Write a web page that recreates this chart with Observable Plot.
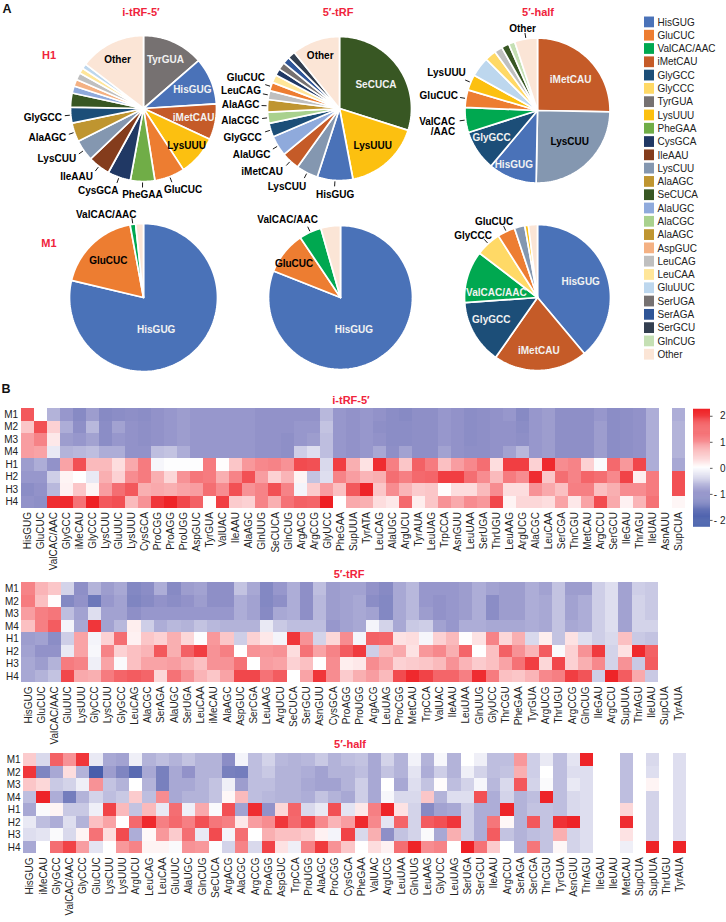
<!DOCTYPE html>
<html><head><meta charset="utf-8">
<script src="https://cdn.jsdelivr.net/npm/d3@7"></script>
<script src="https://cdn.jsdelivr.net/npm/@observablehq/plot@0.6"></script>
<style>
html,body{margin:0;padding:0;background:#fff}
#chart{position:relative;width:726px;height:922px;overflow:hidden;font-family:"Liberation Sans",Arial,sans-serif}
#chart svg{position:absolute;overflow:visible;background:transparent}
.t{position:absolute;white-space:nowrap;transform:translate(-50%,-50%);line-height:1}
.red{color:#f0243c;font-weight:bold;font-size:11px}
.pl{font-weight:bold;font-size:12.5px;color:#111}
</style></head><body><div id="chart"></div>
<script>
// ---------- legend ----------
const legendNames = ["HisGUG","GluCUC","ValCAC/AAC","iMetCAU","GlyGCC","GlyCCC","TyrGUA","LysUUU","PheGAA","CysGCA","IleAAU","LysCUU","AlaAGC","SeCUCA","AlaUGC","AlaCGC","AlaAGC","AspGUC","LeuCAG","LeuCAA","GluUUC","SerUGA","SerAGA","SerGCU","GlnCUG","Other"];
const legendColors = ["#4a72b8","#ed7d31","#00a850","#c55b28","#1c4e78","#ffd966","#767171","#fcc010","#70ad47","#203864","#843c1c","#8497b0","#bf9530","#385723","#8faadc","#a9d18e","#bf9530","#f4b183","#bfbfbf","#ffe699","#bdd7ee","#767171","#2f5597","#333f50","#c5e0b4","#fbe5d6"];
const colorOf = n => legendColors[legendNames.indexOf(n)];

// ---------- pies: tRNA names and percent shares, clockwise from 12 o'clock ----------
const pieH1iNames = ["TyrGUA","HisGUG","iMetCAU","LysUUU","GluCUC","PheGAA","CysGCA","IleAAU","LysCUU","AlaAGC","GlyGCC","SeCUCA","AlaUGC","AspGUC","LeuCAG","LeuCAA","GluUUC","Other"];
const pieH1iValues = [13.6,10.4,7.9,8.9,6.7,5.4,5.1,4.9,4.7,4.2,3.5,3.1,1.6,1.5,1.6,1.2,1.1,14.6];
const pieH1tNames = ["SeCUCA","LysUUU","HisGUG","LysCUU","iMetCAU","AlaUGC","GlyGCC","AlaCGC","AlaAGC","LeuCAG","GluCUC","LeuCAA","CysGCA","TyrGUA","SerAGA","SerGCU","Other"];
const pieH1tValues = [29.9,17.1,8,4.9,4.1,4.6,3.1,2.5,2.8,2,1.9,1.8,1.5,1.7,1.6,1.7,10.8];
const pieH1hNames = ["iMetCAU","LysCUU","HisGUG","GlyGCC","ValCAC/AAC","GluCUC","LysUUU","GluUUC","GlyCCC","LeuCAG","SeCUCA","GlnCUG","Other"];
const pieH1hValues = [25.3,25,10.8,9,5.6,3.9,3.5,4.4,2.5,1.8,1.7,1.4,5.1];
const pieM1iNames = ["HisGUG","GluCUC","ValCAC/AAC","Other"];
const pieM1iValues = [78.7,18.4,1.2,1.7];
const pieM1tNames = ["HisGUG","GluCUC","ValCAC/AAC","Other"];
const pieM1tValues = [81,9.6,5,4.4];
const pieM1hNames = ["HisGUG","iMetCAU","GlyGCC","ValCAC/AAC","GlyCCC","GluCUC","LysCUU","LysUUU","Other"];
const pieM1hValues = [38.9,20.8,14.2,11.5,5.6,3.9,2.3,.8,2];

// label placement along each slice's middle direction
const W="#f2f2f2", K="#000";
const lblA = [["TyrGUA",53,0,0,W],["HisGUG",56,-3,3,W],["iMetCAU",51,0,0,W],["LysUUU",57,0,0,K],["Other",54,-2,0,K],
 ["GluCUC",88,8,-1,K,1],["PheGAA",86,0,0,K,1],["CysGCA",90,-15,-2,K,1],["IleAAU",90,-12,-3,K,1],["LysCUU",90,-13,-1,K,1],["AlaAGC",90,-11,0,K,1],["GlyGCC",90,-11,1,K,1]];
const lblB = [["SeCUCA",44,1,2,W],["LysUUU",50,0,0,K],["Other",55,-1,-1,K],
 ["HisGUG",86,1,0,K,1],["LysCUU",90,-12,-2,K,1],["iMetCAU",90,-16,-3,K,1],["AlaUGC",90,-11,0,K,1],["GlyGCC",90,-11,2,K,1],["AlaCGC",90,-10,1,K,1],["AlaAGC",90,-9,0,K,1],["LeuCAG",90,-10,-1,K,1],["GluCUC",90,-8,-3,K,1]];
const lblC = [["iMetCAU",45,1,1,W],["LysCUU",45,1,-1,K],["HisGUG",59,-3,-1,W],["GlyGCC",54,-1,-3,W],
 ["GluCUC",90,-10,0,K,1],["LysUUU",90,-8,-3,K,1],["Other",81,-2,-2,K,1]];
const lblD = [["HisGUG",35,-9,5,W],["GluCUC",51,0,0,K],["ValCAC/AAC",85,-25,1,K,1]];
const lblE = [["HisGUG",38,-8,1,W],["GluCUC",57,-2,2,K],["ValCAC/AAC",83,-18,-2,K,1]];
const lblF = [["HisGUG",46,0,0,W],["iMetCAU",53,-1,0,W],["GlyGCC",52,-1,-3,W],["ValCAC/AAC",43,0,8,W],["GlyCCC",85,-7,1,K,1],["GluCUC",85,-7,1,K,1]];

// ---------- heatmaps: one array per tRNA, samples in this order ----------
const samples = ["M1","M2","M3","M4","H1","H2","H3","H4"];
const N = null;
const itrfNames = ["HisGUG","GluCUC","ValCAC/AAC","GlyGCC","iMeCAU","GlyCCC","LysCUU","GluUUC","LysUUU","CysGCA","ProCGG","ProAGG","ProUGG","AspGUC","TyrGUA","ValUAC","IleAAU","AlaAGC","GlnUUG","SeCUCA","GlnCUG","ArgACG","ArgCCG","GlyUCC","PheGAA","SupUUA","TyrATA","LeuCAG","AlaUGC","ArgUCU","TyrAUA","LeuUAG","TrpCCA","AsnGUU","LeuUAA","SerUGA","ThrUGU","LeuAAG","ArgUCG","AlaCGC","LeuCAA","SerCGA","ThrCGU","MetCAU","ArgCCU","SerGCU","IleGAU","ThrAGU","IleUAU","AsnAUU","SupCUA"];
const itrfValues = [
[1.6,.5,.85,.85,-.9,-.95,-1.1,-1],[N,1.7,1.1,.8,-.75,-.95,-1,-1.05],[-.7,.4,.2,-.2,-1,-.45,-.65,2.1],[-.95,-.75,-.9,-.7,.8,.1,.12,2.15],
[-1.15,-1.05,-.95,-.65,1.7,0,.5,1.3],[-.9,-.65,-.85,-.6,.6,-.2,.1,2.3],[-1.15,-1.1,-1.1,-.75,.6,.7,.85,1.6],[-1.1,-.85,-.95,-.75,.3,.4,1.35,1.7],
[-1.05,-1,-1,-1,.75,1,1.6,.6],[-1.1,-1.05,-1.05,-1,1.2,1.2,.7,.95],[-1,-1,-1,-.6,-.08,.7,.75,2],[-.95,-.95,-.95,-.55,-.02,.35,.7,2.2],
[-.9,-.9,-.9,-.75,-.02,.95,.8,1.8],[-.95,-.95,-.95,-.95,-.02,1.25,.85,1.5],[-.95,-.95,-.95,-.95,1.2,1.2,1.35,.03],[-.95,-.95,-.95,-.95,.02,.7,1,1.9],
[-.95,-.95,-.95,-.95,.5,1.1,1.7,.45],[-.95,-.95,-.95,-.95,.9,1.7,.95,.4],[-1,-1,-1,-1,1.05,.85,1.1,1.1],[-1,-1,-1,-1,1.1,.4,1.7,.7],
[-1,-1,-1.05,-1.05,.95,.65,1.1,1.3],[-1,-.95,-.95,-.45,1.75,.1,-.1,1.5],[-1,-.95,-.9,-.3,1.7,-.55,.45,1.45],[-.65,-.55,-.6,-.6,-.35,-.3,.85,2.3],
[-.95,-.95,-.95,-.95,1.9,1.1,.55,N],[-1,-1,-1,-1,.7,.85,1.6,.75],[-.95,-.95,-.95,-.95,.25,.65,2.2,.7],[-1,-1.05,-1,-.8,2.1,.7,.5,.3],
[-1.1,-1.1,-1.1,-1.05,1.15,1.35,1,.2],[-1.15,-1.1,-1.1,-.85,.5,1.15,.65,1.4],[-1.05,-1.05,-1.05,-1.05,1.5,1.4,.45,.15],[-1.05,-1.05,-1.05,-1.05,1.2,1.45,.5,.5],
[-.95,-.95,-.95,-.85,.55,1.9,.03,.95],[-1,-1,-1,-1,.85,1.9,.3,.75],[-1.1,-1.1,-1.1,-1.05,1.05,1.35,.3,1],[-1.05,-1.05,-1.05,-1.05,1.35,1,.6,.9],
[-1,-1,-1,-1,.3,.6,1,1.8],[-.95,-1,-1,-.85,1.9,1.2,.3,.1],[-1.15,-1.1,-1.05,-.65,1.9,1,.3,.35],[-.95,-.95,-.95,-.95,.4,2.1,.95,.35],
[-.9,-.9,-.9,-.9,2.15,.5,.75,.3],[-1.05,-1.05,-1.05,-1.05,1,1.35,.55,.8],[-1.05,-1.05,-1.05,-1.05,1.1,1.1,1.15,.2],[-1.05,-1.05,-1.05,-1.05,.4,1.45,1.15,.8],
[-.95,-.9,-.9,-.9,-.05,1.35,.55,1.75],[-1.1,-1.1,-1.1,-1.1,1.4,1.05,.7,.75],[-1.05,-1.05,-1.05,-1.05,.9,1.85,1,.12],[-1,-1,-1,-1,1.8,.15,1,.65],
[-.75,-.75,-.75,-.75,-.75,1.2,1.2,1.3],[N,N,N,N,N,N,N,N],[-.75,-.7,-.7,-.7,-.8,1.7,1.7,.08]];

const trfNames = ["HisGUG","GluCUC","ValCAC/AAC","GluUUC","LysUUU","GlyCCC","LysCUU","GlyGCC","LeuCAG","AlaCGC","SerAGA","AlaUGC","SerUGA","LeuCAA","iMeCAU","AlaAGC","AspGUC","SerCGA","LeuAAG","ArgUCU","SeCUCA","SerGCU","AsnGUU","CysGCA","ProAGG","ProUGG","ArgACG","LeuUAG","ProCGG","MetCAU","TrpCCA","ValUAC","IleAAU","LeuUAA","GlnUUG","GlyUCC","ThrCGU","PheGAA","TyrGUA","ArgUCG","ThrUGU","ArgCCG","GlnCUG","IleGAU","ArgCCU","SupUUA","ThrAGU","IleUAU","SupCUA","TyrAUA"];
const trfValues = [
[1.1,1.2,.85,.55,-.9,-.85,-.8,-.8],[.65,.55,1.15,1.15,-.85,-1,-.9,-.7],[.5,.03,1.25,1.55,-1.1,-1,-.7,-.55],[-.4,-1.2,-.6,-.1,-.45,-.2,1.2,1.8],
[-1.05,-1,-.85,-.8,.8,.8,1.1,.75],[-.7,-1.5,-.3,2,-.1,-.07,-.15,.7],[-.9,-.95,-.85,-.85,.4,1.1,.8,1.2],[-.8,-.85,-.85,-.65,1.35,.4,-.05,1.45],
[-1.2,-1.25,-1.05,.15,.12,.55,.55,1.55],[-1.1,-1.15,-.95,-.45,.5,.65,.8,1.45],[-.75,-1,-.95,-.75,.4,1.6,.8,.35],[-1.15,-1.1,-.95,-.65,.7,.7,.85,1.3],
[-.9,-1,-.95,-.7,.35,1.5,.7,.95],[-.85,-.9,-.95,-.55,-.02,1.9,.55,.65],[-1.05,-1.05,-.95,-.65,.9,.95,.95,.5],[-1.05,-1.05,-.95,-.7,.5,1.15,.95,.8],
[-.55,-.75,-.75,-.7,-.45,0,1.3,1.8],[-.8,-.85,-.85,-.7,.4,.95,0,1.8],[-1.2,-1.2,-1.15,-.2,.2,.9,.85,1.3],[-.95,-1.05,-.8,-.5,-.1,.95,.8,1.55],
[-.75,-.75,-.75,-.6,2,.3,.4,0],[-1.05,-1.05,-1.05,-.6,.95,1.3,.55,.8],[-.6,-.65,-.65,-.6,-.4,.8,0,2],[-.9,-.9,-.9,-.95,.35,1.1,1,1],
[-.85,-.85,-.85,-.85,1,1.55,.15,.45],[-.85,-.8,-.8,-.8,-.1,1.95,.2,.7],[-1,-1.1,-.85,-.1,1.5,-.45,1,.85],[-1.15,-1.2,-1.2,-.4,1.45,.6,.8,.6],
[-.8,-.8,-.8,-.8,.25,.75,.4,1.75],[-.65,-.65,-.65,-.5,.3,.25,.45,2.15],[-.95,-.95,-.9,-.45,-.08,.9,.5,1.85],[-.95,-1,-1,-.85,.4,1.05,.6,1.45],
[-.95,-.95,-.95,-.95,.6,.7,.95,1.45],[-.9,-.9,-.9,-.75,.02,1.45,.65,1.15],[-.75,-.75,-.75,-.75,.25,0,.45,2.1],[-.85,-1.1,-1.1,-.8,1.1,.55,.55,1.2],
[-.9,-.9,-.9,-.8,.35,1.5,.8,.55],[-.9,-.9,-.9,-.8,.7,.95,1.3,.5],[-.75,-.75,-.75,-.75,-.35,.65,1.9,.65],[-.85,-.8,-.8,-.8,.15,1.55,.35,1.05],
[-.55,-.55,-.55,-.55,-.55,-.05,1.8,1.15],[-.9,-.85,-.85,-.8,.25,.4,.4,1.9],[-.9,-.75,-.75,-.75,-.3,.95,.7,1.65],[-.45,-.45,-.45,-.45,-.45,1.95,1.05,-.45],
[-.3,-.3,-.3,-.3,-.35,-.4,-.4,2.2],[-.85,-.85,-.85,-.85,.55,.25,.95,1.55],[-.45,-.4,-.4,-.4,-.5,2.15,-.5,.75],[-.5,-.5,-.5,-.4,-.55,1.5,1.55,-.5],
[N,N,N,N,N,N,N,N],[N,N,N,N,N,N,N,N]];

const halfNames = ["HisGUG","iMeCAU","GlyGCC","ValCAC/AAC","GlyCCC","GluCUC","LysCUU","LysUUU","ArgUCU","LeuCAG","LeuCAA","GluUUC","AlaUGC","GlnCUG","SeCUCA","ArgACG","AlaCGC","ArgCCG","ProAGG","AspGUC","TrpCCA","ProUGG","AlaAGC","ProCGG","CysGCA","PheGAA","ValUAC","ArgUCG","LeuUAA","GlnUUG","LeuAAG","GlyUCC","LeuUAG","SerUGA","SerGCU","IleAAU","ArgCCU","SerAGA","SerCGA","ThrCGU","TyrGUA","AsnGUU","ThrAGU","IleGAU","IleUAU","MetCAU","SupCUA","SupUUA","ThrUGU","TyrAUA"];
const halfValues = [
[.45,2,.5,-.6,-.8,-.2,-.3,-.8],[-.35,-1.25,.35,2.2,-.05,-.6,-.25,0],[1.5,-.8,-.5,-.75,.1,-.75,-.05,1.35],[.95,.3,-.4,-1.4,-.5,-.3,-.35,1.85],
[2,-.7,-.15,-.7,-.5,-.7,.1,.85],[-.2,-2,.95,-.4,-.15,.55,1.3,-.25],[-.8,-.9,-.55,-.6,1.85,.8,.3,0],[-.85,-1.25,-.7,-.5,.6,0,1.75,.9],
[-.15,-1.75,0,.45,-.55,1.4,-.75,1.1],[-.7,-.8,-.7,-.6,.6,2.15,.06,.1],[-.6,-1.35,-1.35,1,-.2,1.15,.9,.1],[-.7,-.8,-.8,-.8,1.35,1.4,.45,-.05],
[-.55,-1,-.8,-.7,-.15,1.15,1.35,.95],[-.7,-.7,-.7,-.7,.75,1.7,-.2,.9],[-.7,-.7,-.55,-.55,-.05,1.25,1.75,-.02],[-1.1,-1.35,-.15,.07,1.7,1.15,-.1,-.4],
[-.1,-1.4,-.9,.6,-.85,.2,1.35,1.1],[-.6,-.6,-.6,-.6,2.1,.85,0,-.35],[-.4,-.5,-.6,-.65,-1,1,.7,1.85],[-.65,-.7,-.7,-.7,.35,2,.55,.25],
[-.7,-.7,-.7,-.7,1.45,1.4,.55,-.15],[-.65,-.75,-.8,-.75,-.35,1.8,.45,1.1],[-.5,-.85,-.85,-.55,-.2,1.05,.12,1.95],[-.7,-.7,-.85,-.7,1.7,.65,-.1,.95],
[-.6,-.7,-.7,-.8,-.25,.85,1.85,.5],[-.55,-.6,-.45,-.45,.2,2.15,-.35,0],[-.8,-.8,-.8,-.8,1.15,1.05,.7,.3],[-.4,-.55,0,-.07,2.2,-.25,-1.05,.12],
[-.7,-.7,-.8,-.35,.25,1.45,-.55,1.35],[-.12,-.25,-.3,-.35,-.4,-.4,-.4,2.2],[-.7,-.75,-.55,.5,-1.15,1.55,-.05,1],[-.07,-.45,.03,-.7,-.85,1.7,-.8,1.1],
[-.7,-.7,-.6,-.3,-.8,2,.7,0],[0,-.15,-.4,-.3,-.45,-.45,-.45,2.3],[-.15,-.4,-.08,1.7,-.75,-.75,-.75,1.3],[-.6,-.6,-.65,-.75,-.75,1.25,1.55,.45],
[-.6,-.55,-.35,-.4,2.2,.07,-.55,0],[.9,.7,1.6,-.7,-.7,-.7,-.7,-.7],[-.45,-.45,-.4,-.6,-.55,1.6,-.6,1.25],[-.2,0,-.05,2.2,-.55,-.55,-.55,-.55],
[-.6,-.6,-.6,-.6,-.6,2.05,.7,.07],[-.25,-.3,-.2,-.35,-.35,2.2,-.4,-.4],[2.2,-.3,-.3,-.3,-.3,-.3,-.3,-.3],[N,N,N,N,N,N,N,N],
[N,N,N,N,N,N,N,N],[-.6,-.6,-.6,-.6,.35,2.1,.25,-.15],[N,N,N,N,N,N,N,N],[-.35,-.3,.1,-.4,-.4,-.4,-.4,2.2],
[N,N,N,N,N,N,N,N],[-.3,-.3,-.3,-.3,-.3,-.3,-.3,2.2]];

const colorbarTicks = [-2,-1,0,1,2];
const colorScale = {type:"linear",domain:[-2.25,-1,0,1,2.25],range:["#3551a3","#9292c9","#ffffff","#f78c90","#ee2024"],clamp:true};

// ---------- drawing ----------
const chart = document.getElementById("chart");
const font = '"Liberation Sans",Arial,sans-serif';
function place(p,left,top){p.style.left=left+"px";p.style.top=top+"px";chart.appendChild(p);}
function label(text,x,y,cls){const d=document.createElement("div");d.className="t "+cls;d.textContent=text;d.style.left=x+"px";d.style.top=y+"px";chart.appendChild(d);}

function drawPie(names,values,labels,cx,cy,R){
  const arcs = d3.pie().sort(null)(values);
  const pts = [];
  const info = new Map();
  arcs.forEach((a,i)=>{
    const nm = names[i], col = colorOf(nm);
    info.set(nm,(a.startAngle+a.endAngle)/2);
    pts.push({k:i,col,x:0,y:0});
    const n = Math.max(2,Math.ceil((a.endAngle-a.startAngle)/0.03));
    d3.range(n+1).forEach(j=>{
      const t = a.startAngle+(a.endAngle-a.startAngle)*j/n;
      pts.push({k:i,col,x:R*Math.sin(t),y:-R*Math.cos(t)});
    });
    pts.push({k:i,col,x:0,y:0});
  });
  const txt = labels.map(([n,d,dx,dy,c])=>{const m=info.get(n);return {n,c,x:d*Math.sin(m)+dx,y:-d*Math.cos(m)+dy};});
  const ticks = labels.filter(l=>l[5]).map(([n])=>{const m=info.get(n);return {x1:(R+1)*Math.sin(m),y1:-(R+1)*Math.cos(m),x2:(R+6)*Math.sin(m),y2:-(R+6)*Math.cos(m)};});
  const p = Plot.plot({width:280,height:220,margin:0,
    x:{domain:[-140,140],range:[0,280],axis:null},y:{domain:[-110,110],range:[0,220],axis:null},
    color:{type:"identity"},style:{fontFamily:font},
    marks:[
      Plot.line(pts,{x:"x",y:"y",z:"k",fill:"col",stroke:"#fff",strokeWidth:1.7,strokeLinejoin:"miter"}),
      Plot.link(ticks,{x1:"x1",y1:"y1",x2:"x2",y2:"y2",stroke:"#000",strokeWidth:.9}),
      Plot.text(txt,{x:"x",y:"y",text:"n",fill:"c",fontSize:10,fontWeight:"bold"})
    ]});
  place(p,cx-140,cy-110);
  return info;
}
drawPie(pieH1iNames,pieH1iValues,lblA,143,108,73);
drawPie(pieH1tNames,pieH1tValues,lblB,339,108,72);
const infoC = drawPie(pieH1hNames,pieH1hValues,lblC,536.7,110,72.5);
drawPie(pieM1iNames,pieM1iValues,lblD,142.7,297.3,74);
drawPie(pieM1tNames,pieM1tValues,lblE,340,297.3,72);
drawPie(pieM1hNames,pieM1hValues,lblF,537.3,297.3,73);

// two-line ValCAC /AAC callout of the H1 5'-half pie
(function(){
  const m = infoC.get("ValCAC/AAC"), R=72.5;
  const p = Plot.plot({width:280,height:220,margin:0,
    x:{domain:[-140,140],range:[0,280],axis:null},y:{domain:[-110,110],range:[0,220],axis:null},style:{fontFamily:font},
    marks:[
      Plot.link([{m}],{x1:d=>(R+1)*Math.sin(d.m),y1:d=>-(R+1)*Math.cos(d.m),x2:d=>(R+6)*Math.sin(d.m),y2:d=>-(R+6)*Math.cos(d.m),stroke:"#000",strokeWidth:.9}),
      Plot.text([{m}],{x:d=>90*Math.sin(d.m)+7,y:d=>-90*Math.cos(d.m)+4,text:()=>"ValCAC\n/AAC",textAnchor:"end",fontSize:10,fontWeight:"bold",fill:"#000"})
    ]});
  place(p,536.7-140,110-110);
})();

// legend
(function(){
  const items = legendNames.map((name,i)=>({name,i,color:legendColors[i]}));
  const step=13.39;
  const p = Plot.plot({width:90,height:step*26,margin:0,
    x:{domain:["s"],range:[0,10.4],padding:0,axis:null},
    y:{domain:d3.range(26),range:[0,step*26],padding:.19,round:false,axis:null},
    color:{type:"identity"},style:{fontFamily:font},
    marks:[
      Plot.cell(items,{x:()=>"s",y:"i",fill:"color"}),
      Plot.text(items,{x:()=>"s",y:"i",text:"name",textAnchor:"start",dx:8,fontSize:10,fill:"#222"})
    ]});
  place(p,644,13.6);
})();

function drawHeat(names,values,x0,x1,y0,rowH){
  const rows = [];
  values.forEach((col,c)=>col.forEach((v,r)=>rows.push({name:names[c],s:samples[r],v})));
  const mb=72;
  const p = Plot.plot({width:726,height:rowH*8+mb,marginTop:0,marginBottom:mb,marginLeft:x0,marginRight:726-x1,
    x:{domain:names,padding:0,round:false,label:null},
    y:{domain:samples,padding:0,round:false,label:null},
    color:colorScale,style:{fontFamily:font,fontSize:"10px"},
    marks:[
      Plot.cell(rows.filter(d=>d.v!==null),{x:"name",y:"s",fill:"v",shapeRendering:"crispEdges"}),
      Plot.axisX({tickRotate:-90,tickSize:0,tickPadding:3.5,fontSize:10,fill:"#222",label:null}),
      Plot.axisY({tickSize:0,tickPadding:3,fontSize:10,fill:"#222",label:null})
    ]});
  place(p,0,y0);
}
drawHeat(itrfNames,itrfValues,20.7,685.3,408,12.5);
drawHeat(trfNames,trfValues,21.3,684.6,581.7,12.55);
drawHeat(halfNames,halfValues,23,686,753.3,12.55);

// colour bar
(function(){
  const steps = d3.range(-2.26,2.26,.04);
  const top=409,bot=526.7;
  const p = Plot.plot({width:17,height:bot-top,margin:0,
    x:{domain:[0,1],range:[0,17],axis:null},
    y:{domain:[-2.26,2.26],range:[bot-top,0],axis:null},
    color:colorScale,style:{fontFamily:font},
    marks:[
      Plot.rect(steps,{x1:0,x2:1,y1:d=>d,y2:d=>d+.05,fill:d=>d}),
      Plot.ruleY(colorbarTicks,{x1:1,x2:1.15,stroke:"#333",strokeWidth:.8}),
      Plot.text(colorbarTicks,{x:1,y:d=>d,text:d=>d<0?"- "+(-d):String(d),textAnchor:"end",dx:15,fontSize:10,fill:"#222"})
    ]});
  place(p,693,top);
})();

// text
label("A",7,9,"pl");
label("B",6,389,"pl");
label("i-tRF-5′",141,12,"red");
label("5′-tRF",338,12,"red");
label("5′-half",538,12,"red");
label("H1",49,55,"red");
label("M1",49,243,"red");
label("i-tRF-5′",351,400,"red");
label("5′-tRF",349,574,"red");
label("5′-half",350,744,"red");
</script></body></html>
